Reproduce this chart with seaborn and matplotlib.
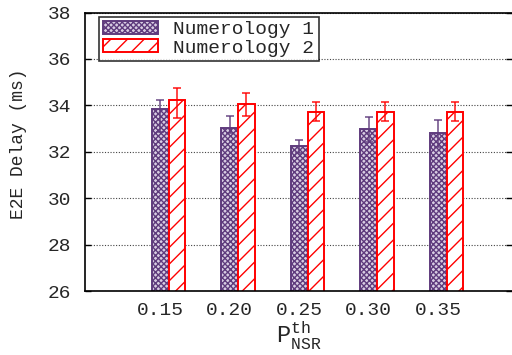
import numpy as np
import pandas as pd
import matplotlib
matplotlib.use("Agg")
import matplotlib.pyplot as plt
import seaborn as sns

# Threshold values and delay statistics (ms)
thresholds = ["0.15", "0.20", "0.25", "0.30", "0.35"]
series = ["Numerology 1", "Numerology 2"]
num1_mean = [33.84, 33.02, 32.24, 32.96, 32.82]
num1_low = [32.85, 32.80, 31.94, 32.44, 32.20]
num1_high = [34.21, 33.55, 32.52, 33.48, 33.35]
num2_mean = [34.24, 34.05, 33.73, 33.73, 33.73]
num2_low = [33.45, 33.55, 33.32, 33.33, 33.32]
num2_high = [34.73, 34.52, 34.15, 34.15, 34.15]
y_ticks = [26, 28, 30, 32, 34, 36, 38]

sns.set_theme(style="white")
plt.rcParams["font.family"] = ["Liberation Mono", "DejaVu Sans Mono"]
plt.rcParams["mathtext.fontset"] = "custom"
plt.rcParams["mathtext.rm"] = "Liberation Mono"
plt.rcParams["mathtext.it"] = "Liberation Mono"
plt.rcParams["mathtext.bf"] = "Liberation Mono"
plt.rcParams["hatch.linewidth"] = 1.0

purple = "#5f3b7d"
red = "#ff0000"

df = pd.DataFrame({
    "threshold": thresholds * 2,
    "series": [series[0]] * 5 + [series[1]] * 5,
    "delay": num1_mean + num2_mean,
})

fig = plt.figure(figsize=(5.12, 3.55), dpi=100)
ax = fig.add_axes([85 / 512, 1 - 291 / 355, (512 - 85) / 512, (291 - 12.5) / 355])

width = 0.48
sns.barplot(data=df, x="threshold", y="delay", hue="series", order=thresholds,
            hue_order=series, width=width, errorbar=None, ax=ax,
            palette=[purple, red], legend=False)
bar_groups = list(ax.containers)

styles = [(purple, "#d9cde3", "xxxxxx"), (red, "white", "//")]
lows = [num1_low, num2_low]
highs = [num1_high, num2_high]
means = [num1_mean, num2_mean]
handles = []
for k, cont in enumerate(bar_groups):
    col, face, hatch = styles[k]
    xs = []
    for p in cont.patches:
        p.set_facecolor(face)
        p.set_edgecolor(col)
        p.set_hatch(hatch)
        p.set_linewidth(1.4)
        xs.append(p.get_x() + p.get_width() / 2)
    m = np.array(means[k])
    err = np.vstack([m - np.array(lows[k]), np.array(highs[k]) - m])
    ax.errorbar(xs, m, yerr=err, fmt="none", ecolor=col, elinewidth=1.2,
                capsize=3, capthick=1.2, alpha=0.85, zorder=5)
    handles.append(plt.Rectangle((0, 0), 1, 1, facecolor=face, edgecolor=col,
                                 hatch=hatch, linewidth=1.4))

# Tick labels sit under the first series of each group
centers = [p.get_x() + p.get_width() / 2 for p in bar_groups[0].patches]
ax.set_xticks(centers)
ax.set_xticklabels(thresholds, fontsize=14)
ax.set_xlim(-1.203, 4.94)
ax.set_ylim(26, 38)
ax.set_yticks(y_ticks)
ax.set_yticklabels([str(v) for v in y_ticks], fontsize=14)

ax.tick_params(axis="x", length=0, pad=8)
ax.tick_params(axis="y", direction="in", length=4, width=1, pad=10,
               left=True, right=True, color="black")
ax.yaxis.grid(True, linestyle=(0, (1, 1.5)), color="#444444", linewidth=0.8)
ax.set_axisbelow(True)

for side in ["left", "top", "bottom"]:
    ax.spines[side].set_visible(True)
    ax.spines[side].set_color("black")
    ax.spines[side].set_linewidth(1.2)
ax.spines["right"].set_visible(False)

ax.set_ylabel("E2E Delay (ms)", fontsize=13)
ax.yaxis.set_label_coords(-0.136, 0.53)
ax.set_xlabel(r"$\mathrm{P}^{\mathrm{th}}_{\mathrm{NSR}}$", fontsize=17, labelpad=0.5)

leg = ax.legend(handles, series, loc="upper left",
                bbox_to_anchor=(99 / 512, 1 - 16.7 / 355),
                bbox_transform=fig.transFigure, borderaxespad=0,
                fontsize=14, frameon=True, fancybox=False,
                handlelength=2.8, handleheight=0.65, labelspacing=0.05,
                handletextpad=0.8, borderpad=0.22)
leg.get_frame().set_edgecolor("black")
leg.get_frame().set_linewidth(1.2)

fig.savefig("out.png", dpi=100)
